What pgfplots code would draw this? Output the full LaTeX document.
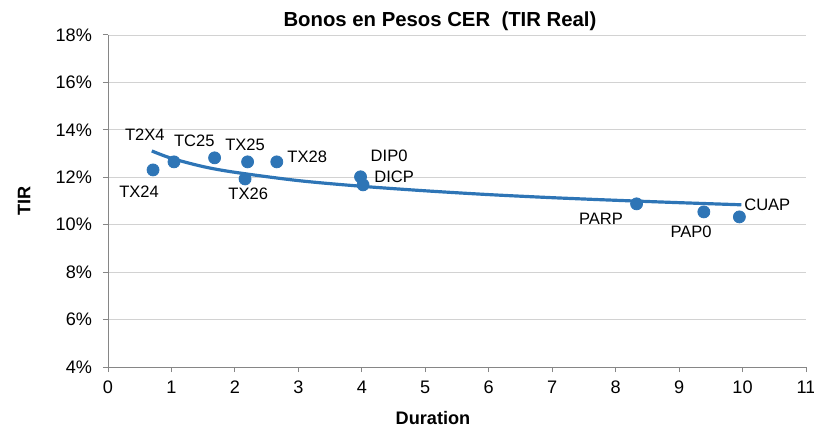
\documentclass[border=0pt]{standalone}
\usepackage{pgfplots}
\pgfplotsset{compat=1.18}
\usepackage{fontspec}
\setmainfont{Liberation Sans}
\definecolor{bondblue}{RGB}{46,117,182}
\definecolor{axgray}{RGB}{134,134,134}

\begin{document}
\begin{tikzpicture}
% frame of the whole chart, 814x429 px at 0.5bp per px
\useasboundingbox (-54bp,-31bp) rectangle (353bp,183.5bp);
\begin{axis}[
    scale only axis,
    width=349bp, height=166bp,
    xmin=0, xmax=11, ymin=4, ymax=18,
    xtick={0,...,11},
    ytick={4,6,...,18},
    yticklabel={\pgfmathprintnumber{\tick}\%},
    /pgf/number format/assume math mode=true,
    font=\fontsize{8.3}{10}\selectfont,
    ticklabel style={font=\fontsize{9.1}{11}\selectfont},
    xticklabel style={yshift=-1bp},
    yticklabel style={xshift=-2bp},
    axis x line*=bottom, axis y line*=left,
    axis line style={axgray, line width=0.5pt, -},
    tick style={axgray, line width=0.5pt},
    tick align=outside,
    major tick length=2.5bp,
    ymajorgrids,
    grid style={gray!35, line width=0.4pt},
    every axis title shift=0pt,
    title={\bfseries Bonos en Pesos CER\ \ (TIR Real)},
    title style={font=\fontsize{10.2}{12}\selectfont, at={(axis description cs:0.4756,1)}, anchor=base, yshift=4.2bp},
    xlabel={\bfseries Duration},
    xlabel style={font=\fontsize{9.1}{11}\selectfont, at={(axis description cs:0.4656,0)}, anchor=base, yshift=-28.7bp},
    ylabel={\bfseries TIR},
    ylabel style={font=\fontsize{9.1}{11}\selectfont, at={(axis description cs:-0.1203,0.5)}, anchor=center},
    clip=false,
]
% trend line
\addplot[bondblue, line width=1.6pt, smooth] coordinates {
    (0.69,13.11) (1,12.80) (1.5,12.45) (2,12.21) (3,11.86) (4,11.62)
    (5,11.43) (6,11.27) (7,11.14) (8,11.03) (9,10.93) (9.98,10.84)
};
% bonds
\addplot[only marks, mark=*, mark size=3bp, bondblue, mark options={draw=bondblue, fill=bondblue}] coordinates {
    (0.71,12.31) (1.04,12.65) (1.68,12.82) (2.20,12.65) (2.16,11.93)
    (2.66,12.65) (3.98,12.02) (4.02,11.68) (8.33,10.88) (9.39,10.54) (9.95,10.33)
};
\node at (axis cs:0.49,11.38) {TX24};
\node at (axis cs:0.58,13.78) {T2X4};
\node at (axis cs:1.36,13.53) {TC25};
\node at (axis cs:2.16,13.36) {TX25};
\node at (axis cs:2.21,11.30) {TX26};
\node at (axis cs:3.14,12.86) {TX28};
\node at (axis cs:4.43,12.90) {DIP0};
\node at (axis cs:4.51,12.01) {DICP};
\node at (axis cs:7.77,10.24) {PARP};
\node at (axis cs:9.19,9.69) {PAP0};
\node at (axis cs:10.39,10.83) {CUAP};
\end{axis}
\end{tikzpicture}
\end{document}
